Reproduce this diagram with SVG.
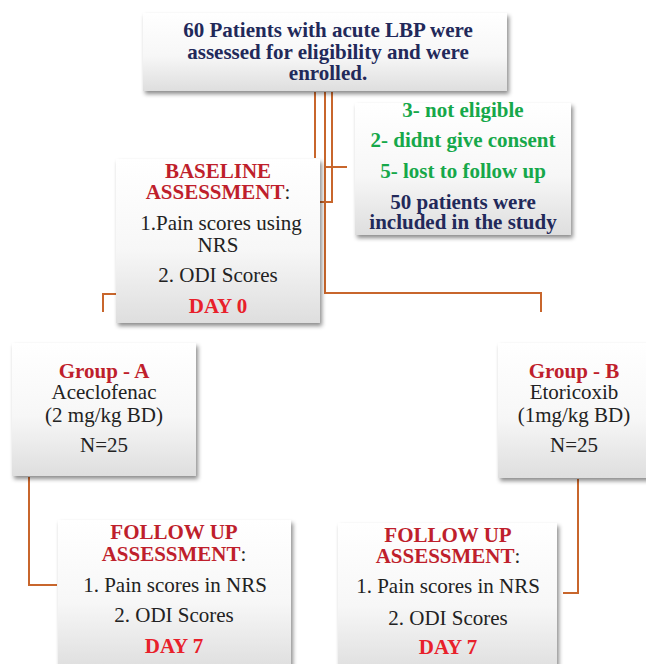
<svg xmlns="http://www.w3.org/2000/svg" width="646" height="664" viewBox="0 0 646 664">
<defs>
<linearGradient id="g" x1="0" y1="0" x2="0" y2="1">
<stop offset="0" stop-color="#ffffff"/>
<stop offset="0.55" stop-color="#f7f7f7"/>
<stop offset="1" stop-color="#dedede"/>
</linearGradient>
<filter id="sh" x="-10%" y="-10%" width="125%" height="130%">
<feDropShadow dx="2" dy="3" stdDeviation="2" flood-color="#000" flood-opacity="0.45"/>
</filter>
<style>
.box{fill:url(#g);filter:url(#sh);}
text{font-family:"Liberation Serif","Times New Roman",serif;font-size:21px;text-anchor:middle;fill:#222;}
.navy{fill:#22295a;font-weight:bold;}
.green{fill:#16a84a;font-weight:bold;}
.red{fill:#bf1f2c;font-weight:bold;}
.day{fill:#e8202a;font-weight:bold;}
.c{fill:none;stroke:#c8662c;stroke-width:2;}
</style>
</defs>
<g id="connectors">
<path class="c" d="M315 92 V158"/>
<path class="c" d="M325 92 V293 H541 V312"/>
<path class="c" d="M325 167 H347"/>
<path class="c" d="M332 92 V202 H320"/>
<path class="c" d="M116 294 H103 V312"/>
<path class="c" d="M29 477 V585 H57"/>
<path class="c" d="M578 479 V593 H563"/>
</g>
<g id="enrolled">
<rect class="box" x="143" y="13" width="364" height="78"/>
<text class="navy" x="328" y="37">60 Patients with acute LBP were</text>
<text class="navy" x="328" y="59">assessed for eligibility and  were</text>
<text class="navy" x="328" y="80">enrolled.</text>
</g>
<g id="excluded">
<rect class="box" x="355" y="103" width="216" height="132"/>
<text class="green" x="463" y="117">3- not eligible</text>
<text class="green" x="463" y="147">2- didnt give consent</text>
<text class="green" x="463" y="178">5- lost to follow up</text>
<text class="navy" x="463" y="209">50 patients were</text>
<text class="navy" x="463" y="229">included in the study</text>
</g>
<g id="baseline">
<rect class="box" x="116" y="159" width="204" height="164"/>
<text class="red" x="218" y="178">BASELINE</text>
<text x="218" y="199"><tspan class="red">ASSESSMENT</tspan>:</text>
<text x="221" y="230">1.Pain scores using</text>
<text x="218" y="252">NRS</text>
<text x="218" y="282">2. ODI Scores</text>
<text class="day" x="218" y="313">DAY 0</text>
</g>
<g id="groupA">
<rect class="box" x="12" y="343" width="184" height="133"/>
<text class="red" x="104" y="378">Group - A</text>
<text x="104" y="399">Aceclofenac</text>
<text x="104" y="422">(2 mg/kg BD)</text>
<text x="104" y="452">N=25</text>
</g>
<g id="groupB">
<rect class="box" x="498" y="343" width="152" height="135"/>
<text class="red" x="574" y="378">Group - B</text>
<text x="574" y="399">Etoricoxib</text>
<text x="574" y="422">(1mg/kg BD)</text>
<text x="574" y="452">N=25</text>
</g>
<g id="followupA">
<rect class="box" x="58" y="520" width="233" height="150"/>
<text class="red" x="174" y="539">FOLLOW UP</text>
<text x="174" y="561"><tspan class="red">ASSESSMENT</tspan>:</text>
<text x="175" y="592">1. Pain scores in NRS</text>
<text x="174" y="622">2. ODI Scores</text>
<text class="day" x="174" y="653">DAY 7</text>
</g>
<g id="followupB">
<rect class="box" x="338" y="523" width="219" height="150"/>
<text class="red" x="448" y="542">FOLLOW UP</text>
<text x="448" y="563"><tspan class="red">ASSESSMENT</tspan>:</text>
<text x="448" y="593">1. Pain scores in NRS</text>
<text x="448" y="625">2. ODI Scores</text>
<text class="day" x="448" y="654">DAY 7</text>
</g>
</svg>
